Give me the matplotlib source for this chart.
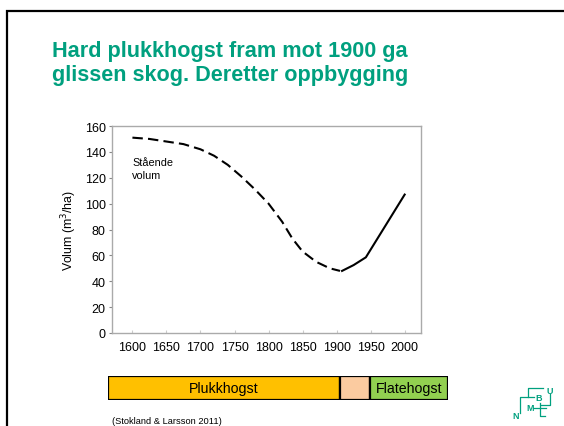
import matplotlib.pyplot as plt
import numpy as np

plt.rcParams['font.family'] = ['Liberation Sans', 'DejaVu Sans']

# stående volum (m3/ha)
years_dash = [1600, 1625, 1650, 1675, 1700, 1720, 1740, 1760, 1780, 1800,
              1820, 1835, 1850, 1870, 1890, 1905]
vol_dash = [151, 150, 148, 146, 142, 137, 130, 121, 111, 100,
            86, 73, 63, 55, 50, 48]
years_solid = [1908, 1925, 1943, 2000]
vol_solid = [48, 52.5, 58.5, 107]

xticks = [1600, 1650, 1700, 1750, 1800, 1850, 1900, 1950, 2000]
yticks = [0, 20, 40, 60, 80, 100, 120, 140, 160]

# periods shown in the bar under the chart
periods = ['Plukkhogst', '', 'Flatehogst']
period_len = [232, 30, 78]
period_col = ['#FFC000', '#FBCBA0', '#92D050']

green = '#00A07F'
W, H = 564, 427

fig = plt.figure(figsize=(W / 100, H / 100), dpi=100)

# overlay in pixel coords for slide decoration
bg = fig.add_axes([0, 0, 1, 1])
bg.set_xlim(0, W)
bg.set_ylim(H, 0)
bg.axis('off')
bg.plot([7, 7, W], [H, 12, 12], color='black', lw=1.6, solid_joinstyle='miter')

fig.text(52 / W, 1 - 57.5 / H, 'Hard plukkhogst fram mot 1900 ga', color=green,
         fontsize=15.6, fontweight='bold', va='baseline')
fig.text(52 / W, 1 - 81 / H, 'glissen skog. Deretter oppbygging', color=green,
         fontsize=15.6, fontweight='bold', va='baseline')

# main chart
ax = fig.add_axes([112 / W, 1 - 334 / H, 309 / W, 207 / H])
ax.plot(years_dash, vol_dash, color='black', lw=1.5, dashes=(5, 2.5))
ax.plot(years_solid, vol_solid, color='black', lw=1.5)
ax.set_xlim(1570, 2024)
ax.set_ylim(0, 160)
ax.set_xticks(xticks)
ax.set_yticks(yticks)
for s in ax.spines.values():
    s.set_color('#AAAAAA')
    s.set_linewidth(1.0)
ax.tick_params(axis='y', length=2.5, color='#888888', labelsize=9, pad=2)
ax.tick_params(axis='x', length=2, direction='in', color='#CCCCCC', labelsize=9, pad=6)
ax.set_ylabel('Volum (m$^3$/ha)', fontsize=8.8, labelpad=4)
ax.text(1600, 132, 'Stående', fontsize=7.8, va='center', ha='left')
ax.text(1600, 122, 'volum', fontsize=7.8, va='center', ha='left')

# period bar
bax = fig.add_axes([108 / W, 1 - 401 / H, 340 / W, 24 / H])
left = np.concatenate([[0], np.cumsum(period_len)[:-1]])
bax.barh(0, period_len, left=left, height=1, color=period_col,
         edgecolor='black', linewidth=1.6)
for l, w, name in zip(left, period_len, periods):
    bax.text(l + w / 2, 0, name, ha='center', va='center', fontsize=10.2)
bax.set_xlim(0, sum(period_len))
bax.set_ylim(-0.5, 0.5)
bax.axis('off')

fig.text(112 / W, 1 - 422 / H, '(Stokland & Larsson 2011)', fontsize=6.7,
         va='center', ha='left')

# NMBU logo
logo_lines = [
    ([528, 528, 543], [398, 389, 389]),
    ([520, 520, 534], [414, 398, 398]),
    ([550, 550, 541], [395, 406, 406]),
    ([533, 546], [409, 409]),
    ([540, 540, 545], [404, 417, 417]),
]
for xs, ys in logo_lines:
    bg.plot(xs, ys, color=green, lw=0.9)
for ch, x, y in [('U', 550, 392), ('B', 539, 399), ('M', 530, 409), ('N', 516, 417)]:
    bg.text(x, y, ch, color=green, fontsize=6.5, fontweight='bold',
            ha='center', va='center')

fig.savefig('out.png', dpi=100)
